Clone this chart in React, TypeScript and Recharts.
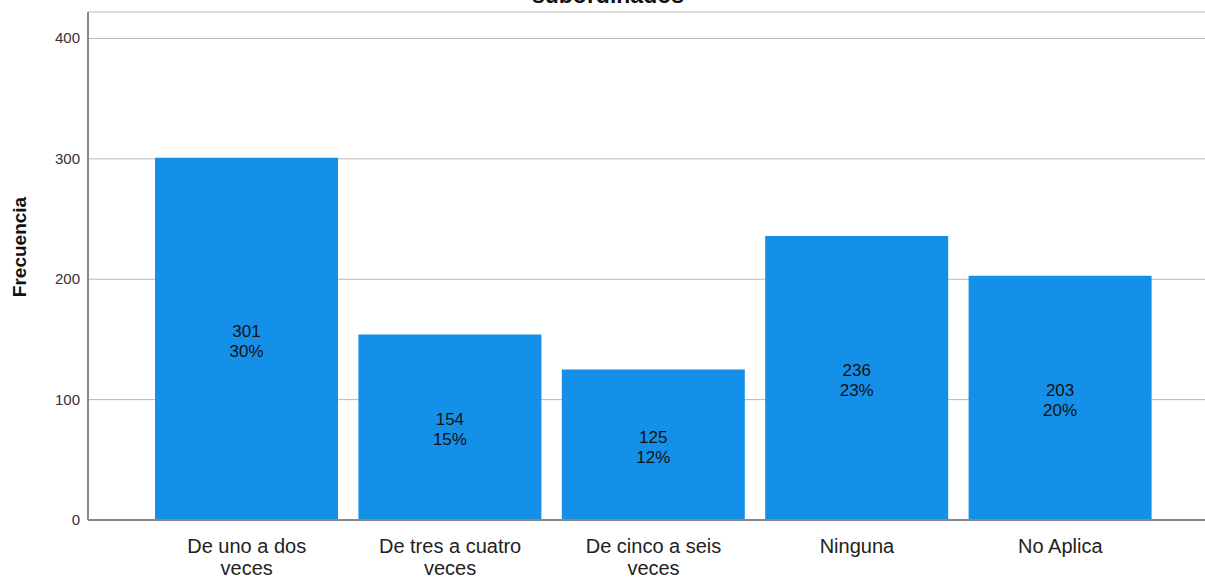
import React from 'react';
import { BarChart, Bar, XAxis, YAxis, CartesianGrid, LabelList } from 'recharts';

const categories = ['De uno a dos veces', 'De tres a cuatro veces', 'De cinco a seis veces', 'Ninguna', 'No Aplica'];
const counts = [301, 154, 125, 236, 203];
const percents = ['30%', '15%', '12%', '23%', '20%'];
const yTicks = [0, 100, 200, 300, 400];

const data = categories.map((name, i) => ({ name, value: counts[i], pct: percents[i] }));

const FONT = 'Liberation Sans, Arial, sans-serif';

const splitLabel = (s: string): string[] => {
  const idx = s.lastIndexOf(' veces');
  if (idx > 0) return [s.slice(0, idx), 'veces'];
  return [s];
};

const XTick = (props: any) => {
  const { x, y, payload } = props;
  const lines = splitLabel(payload.value);
  return (
    <text x={x} y={y} textAnchor="middle" fontFamily={FONT} fontSize={20} fill="#222">
      {lines.map((l, i) => (
        <tspan key={i} x={x} dy={i === 0 ? 25 : 22}>{l}</tspan>
      ))}
    </text>
  );
};

const YTick = (props: any) => {
  const { y, payload } = props;
  return (
    <text x={80} y={y} dy={5} textAnchor="end" fontFamily={FONT} fontSize={15} fill="#333">
      {payload.value}
    </text>
  );
};

const BarText = (props: any) => {
  const { x, y, width, height, index } = props;
  const cx = x + width / 2;
  const cy = y + height / 2;
  return (
    <text x={cx} textAnchor="middle" fontFamily={FONT} fontSize={17} fill="#111">
      <tspan x={cx} y={cy - 2}>{counts[index]}</tspan>
      <tspan x={cx} y={cy + 18}>{percents[index]}</tspan>
    </text>
  );
};

const YLabel = () => (
  <text
    x={26}
    y={247}
    transform="rotate(-90 26 247)"
    textAnchor="middle"
    fontFamily={FONT}
    fontWeight="bold"
    fontSize={19}
    fill="#111"
  >
    Frecuencia
  </text>
);

export default function App() {
  return (
    <div style={{ position: 'absolute', left: 0, top: 0, width: 1205, height: 577, overflow: 'hidden', background: '#fff' }}>
      <div style={{ position: 'absolute', left: 0, width: 1216, top: -16, textAlign: 'center', fontFamily: FONT, fontWeight: 'bold', fontSize: 23, lineHeight: '23px', color: '#111' }}>
        subordinados
      </div>
      <BarChart width={1205} height={577} data={data} margin={{ top: 12, right: 0, left: 0, bottom: 0 }} barCategoryGap={10}>
        <CartesianGrid vertical={false} stroke="#b9b9b9" />
        <XAxis
          dataKey="name"
          height={57}
          interval={0}
          tick={<XTick />}
          tickLine={false}
          axisLine={{ stroke: '#888', strokeWidth: 2 }}
          padding={{ left: 57, right: 43 }}
        />
        <YAxis
          width={88}
          domain={[0, 422]}
          ticks={yTicks}
          tickLine={false}
          axisLine={{ stroke: '#888', strokeWidth: 2 }}
          tick={<YTick />}
          label={<YLabel />}
        />
        <Bar dataKey="value" fill="#1490e8" isAnimationActive={false}>
          <LabelList dataKey="value" content={<BarText />} />
        </Bar>
      </BarChart>
    </div>
  );
}
